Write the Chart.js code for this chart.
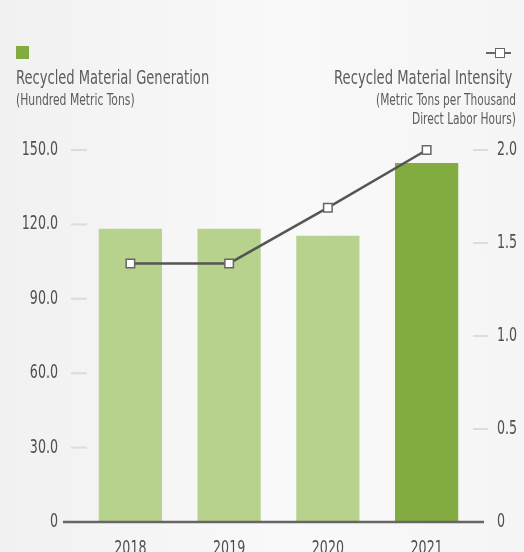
<!DOCTYPE html>
<html>
<head>
<meta charset="utf-8">
<script src="https://cdn.jsdelivr.net/npm/chart.js@4"></script>
<style>
  html, body { margin: 0; padding: 0; }
  body {
    width: 524px; height: 552px; overflow: hidden; position: relative;
    background: linear-gradient(to right, #f1f1f1 0%, #f9f9f9 55%, #f5f5f5 100%);
    font-family: 'DejaVu Sans Condensed', 'Liberation Sans Narrow', sans-serif;
    color: #5c5c5c;
  }
  #wrap { position: absolute; left: 0; top: 0; width: 524px; height: 552px; }
  .t { position: absolute; white-space: nowrap; line-height: 1; }
  .big { font-size: 19px; }
  .small { font-size: 15px; }
  .l { transform-origin: left center; }
  .r { transform-origin: right center; }
  .sq { position: absolute; left: 16px; top: 46px; width: 13px; height: 13px; background: #82ab40; }
  .lg { position: absolute; left: 486px; top: 52px; width: 25px; height: 1.5px; background: #666; }
  .lgbox { position: absolute; left: 495px; top: 48px; width: 8px; height: 8px; background: #fff; border: 1px solid #666; }
</style>
</head>
<body>
<div id="wrap"><canvas id="myChart" width="524" height="552"></canvas></div>
<div class="sq"></div>
<div class="t big l" id="t1" style="left:16px; top:68px;">Recycled Material Generation</div>
<div class="t small l" id="t2" style="left:16px; top:93px;">(Hundred Metric Tons)</div>
<div class="lg"></div><div class="lgbox"></div>
<div class="t big r" id="t3" style="right:12px; top:68px;">Recycled Material Intensity</div>
<div class="t small r" id="t4" style="right:8px; top:93px;">(Metric Tons per Thousand</div>
<div class="t small r" id="t5" style="right:8px; top:112px;">Direct Labor Hours)</div>
<script>
  // data
  const years = ['2018', '2019', '2020', '2021'];
  const generation = [118.2, 118.2, 115.4, 144.8];
  const intensity = [1.39, 1.39, 1.69, 2.0];
  const barColors = ['#b7d28d', '#b7d28d', '#b7d28d', '#82ab40'];

  const fontFam = "'DejaVu Sans Condensed', 'Liberation Sans Narrow', sans-serif";

  // squeeze the header texts to mimic a condensed face
  [['t1', 193], ['t2', 119], ['t3', 178], ['t4', 140], ['t5', 104]].forEach(([id, w]) => {
    const el = document.getElementById(id);
    el.style.transform = 'scaleX(' + (w / el.offsetWidth) + ')';
  });

  const fmt = v => v === 0 ? '0' : Number(v).toFixed(1);

  function squeezed(ctx, txt, x, y, align) {
    ctx.save();
    ctx.translate(x, y);
    ctx.scale(0.74, 1);
    ctx.textAlign = align;
    ctx.fillText(txt, 0, 0);
    ctx.restore();
  }

  // tick marks, labels + baseline
  const decor = {
    id: 'decor',
    afterDraw(chart) {
      const ctx = chart.ctx;
      const a = chart.chartArea;
      const sy = chart.scales.y, sy1 = chart.scales.y1, sx = chart.scales.x;
      ctx.save();
      ctx.strokeStyle = '#dcdcdc';
      ctx.lineWidth = 2;
      sy.ticks.forEach(t => {
        if (t.value === 0) return;
        const y = sy.getPixelForValue(t.value);
        ctx.beginPath(); ctx.moveTo(a.left - 10, y); ctx.lineTo(a.left + 6, y); ctx.stroke();
      });
      sy1.ticks.forEach(t => {
        if (t.value === 0) return;
        const y = sy1.getPixelForValue(t.value);
        ctx.beginPath(); ctx.moveTo(a.right - 3, y); ctx.lineTo(a.right + 12, y); ctx.stroke();
      });
      ctx.strokeStyle = '#666';
      ctx.lineWidth = 2.5;
      ctx.beginPath(); ctx.moveTo(a.left - 18, a.bottom); ctx.lineTo(a.right + 8, a.bottom); ctx.stroke();

      ctx.fillStyle = '#505050';
      ctx.font = '19px ' + fontFam;
      ctx.textBaseline = 'middle';
      sy.ticks.forEach(t => squeezed(ctx, fmt(t.value), a.left - 23, sy.getPixelForValue(t.value), 'right'));
      sy1.ticks.forEach(t => squeezed(ctx, fmt(t.value), a.right + 21, sy1.getPixelForValue(t.value), 'left'));
      years.forEach((yr, i) => squeezed(ctx, yr, sx.getPixelForValue(i), a.bottom + 27, 'center'));
      ctx.restore();
    }
  };

  const data = {
    labels: years,
    datasets: [
      {
        type: 'line',
        label: 'Recycled Material Intensity',
        data: intensity,
        yAxisID: 'y1',
        borderColor: '#555',
        borderWidth: 2.5,
        pointStyle: 'rect',
        pointRadius: 6,
        pointBackgroundColor: '#fff',
        pointBorderColor: '#666',
        pointBorderWidth: 1.5,
        clip: false,
        order: 0
      },
      {
        type: 'bar',
        label: 'Recycled Material Generation',
        data: generation,
        yAxisID: 'y',
        backgroundColor: barColors,
        barPercentage: 0.64,
        categoryPercentage: 1.0,
        order: 1
      }
    ]
  };

  const config = {
    data,
    options: {
      responsive: false,
      animation: false,
      layout: { padding: { top: 150, left: 0, right: 0, bottom: 0 } },
      plugins: { legend: { display: false }, tooltip: { enabled: false } },
      scales: {
        x: {
          grid: { display: false, drawTicks: false },
          border: { display: false },
          ticks: { display: false },
          afterFit(s) { s.height = 30; }
        },
        y: {
          position: 'left',
          min: 0, max: 150,
          grid: { display: false, drawTicks: false },
          border: { display: false },
          ticks: { stepSize: 30, display: false },
          afterFit(s) { s.width = 81; }
        },
        y1: {
          position: 'right',
          min: 0, max: 2,
          grid: { display: false, drawTicks: false },
          border: { display: false },
          ticks: { stepSize: 0.5, display: false },
          afterFit(s) { s.width = 48; }
        }
      }
    },
    plugins: [decor]
  };

  var myChart = new Chart(document.getElementById('myChart'), config);
</script>
</body>
</html>
